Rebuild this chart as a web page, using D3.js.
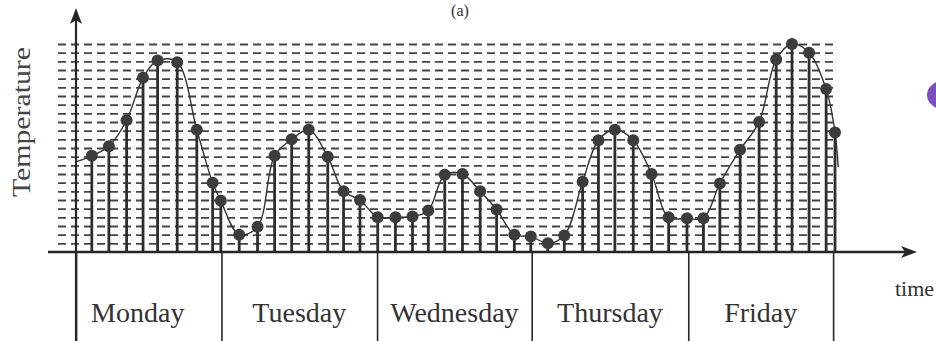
<!DOCTYPE html>
<html>
<head>
<meta charset="utf-8">
<script src="https://cdn.jsdelivr.net/npm/d3@7"></script>
<style>
  html, body { margin: 0; padding: 0; background: #fff; }
  svg { display: block; }
</style>
</head>
<body>
<svg id="chart" width="936" height="341"></svg>
<script>
// ---------------- data ----------------
const days = ["Monday", "Tuesday", "Wednesday", "Thursday", "Friday"];
// day boundaries along the time axis (hours)
const dayBounds = [0, 23.0, 47.6, 72.05, 96.8, 119.7];
// sample times (hours) and sampled temperatures (grid units)
const sampleTimes = [2.5, 5.2, 8.0, 10.6, 12.9, 16.0, 19.1, 21.6, 22.9, 25.8,
  28.7, 31.4, 34.1, 36.8, 39.8, 42.3, 44.9, 47.7, 50.5, 53.2,
  55.7, 58.3, 61.1, 63.9, 66.5, 69.3, 71.9, 74.6, 77.2, 80.1,
  82.6, 85.2, 88.1, 91.0, 93.7, 96.6, 99.2, 101.8, 105.0, 108.0,
  110.7, 113.2, 115.9, 118.6, 120.0];
const sampleTemps = [11.1, 12.2, 15.2, 20.1, 22.1, 21.9, 14.1, 8.0, 5.9, 2.0,
  2.9, 11.1, 13.0, 14.1, 11.0, 7.0, 6.0, 4.0, 4.0, 4.1,
  4.8, 8.9, 9.0, 7.0, 4.9, 2.0, 1.8, 1.0, 1.9, 8.1,
  12.9, 14.1, 12.9, 9.0, 4.0, 3.9, 3.9, 7.9, 11.8, 15.0,
  22.2, 24.0, 23.0, 18.8, 13.8];
// continuous signal ends (time, temperature)
const curveStart = [0, 10.4];
const curveEnd = [120.5, 9.8];
// dashed quantisation levels
const levels = d3.range(1, 25);
const yLabel = "Temperature";
const xLabel = "time";
const title = "(a)";

// ---------------- layout ----------------
const svg = d3.select("#chart");
const x = d3.scaleLinear().domain([0, 120]).range([76, 835]);
const y = d3.scaleLinear().domain([0, 24]).range([252, 44]);
const base = y(0);
const ink = "#262626";
const serif = "'Liberation Serif', 'DejaVu Serif', serif";

// decorative purple blob at right edge
svg.append("ellipse").attr("cx", 946).attr("cy", 95).attr("rx", 19).attr("ry", 15)
  .attr("fill", "#7b4cc2");

// dashed level lines via axis generator
const gridLeft = x(0) - 18, gridRight = x(120) + 2;
const grid = svg.append("g").attr("transform", `translate(${gridLeft},0)`)
  .call(d3.axisLeft(y).tickValues(levels).tickSize(-(gridRight - gridLeft)).tickFormat(""));
grid.select(".domain").remove();
grid.selectAll(".tick line")
  .attr("stroke", "#444").attr("stroke-width", 1.9)
  .attr("stroke-dasharray", "8,5");

// day dividers via axis generator
const divs = svg.append("g").attr("transform", `translate(0,${base})`)
  .call(d3.axisBottom(x).tickValues(dayBounds).tickSize(341 - base).tickFormat(""));
divs.select(".domain").remove();
divs.selectAll(".tick line").attr("stroke", ink).attr("stroke-width", 1.6);

// day labels
const centers = days.map((d, i) => (dayBounds[i] + dayBounds[i + 1]) / 2);
svg.append("g").selectAll("text").data(days).join("text")
  .attr("x", (d, i) => x(centers[i]) - (i === 0 ? 11 : 0))
  .attr("y", 321.5)
  .attr("text-anchor", "middle")
  .attr("font-family", serif).attr("font-size", 28).attr("fill", "#333")
  .text(d => d);

// stems
const samples = sampleTimes.map((t, i) => ({ t, v: sampleTemps[i] }));
svg.append("g").selectAll("line").data(samples).join("line")
  .attr("x1", d => x(d.t)).attr("x2", d => x(d.t))
  .attr("y1", base).attr("y2", d => y(d.v))
  .attr("stroke", "#2e2e2e").attr("stroke-width", 2.8);

// continuous curve
const curvePts = [curveStart, ...samples.map(d => [d.t, d.v]), curveEnd];
svg.append("path")
  .attr("d", d3.line().x(d => x(d[0])).y(d => y(d[1])).curve(d3.curveCatmullRom.alpha(0.5))(curvePts))
  .attr("fill", "none").attr("stroke", "#333").attr("stroke-width", 1.4);

// dots
svg.append("g").selectAll("circle").data(samples).join("circle")
  .attr("cx", d => x(d.t)).attr("cy", d => y(d.v)).attr("r", 6)
  .attr("fill", "#3c3c3c");

// axes lines with arrows
svg.append("line").attr("x1", x(0)).attr("x2", x(0)).attr("y1", 20).attr("y2", 341)
  .attr("stroke", ink).attr("stroke-width", 2.2);
svg.append("path")
  .attr("d", `M${x(0)},8 L${x(0) + 6},24 L${x(0)},20 L${x(0) - 6},24 Z`)
  .attr("fill", ink);
svg.append("line").attr("x1", 48).attr("x2", 906).attr("y1", base).attr("y2", base)
  .attr("stroke", ink).attr("stroke-width", 2.4);
svg.append("path")
  .attr("d", `M917,${base} L901,${base - 6} L905,${base} L901,${base + 6} Z`)
  .attr("fill", ink);

// labels
svg.append("text")
  .attr("transform", "translate(30,122) rotate(-90)")
  .attr("text-anchor", "middle")
  .attr("font-family", serif).attr("font-size", 25).attr("fill", "#444")
  .attr("textLength", 150).attr("lengthAdjust", "spacingAndGlyphs")
  .text(yLabel);
svg.append("text").attr("x", 895).attr("y", 296)
  .attr("font-family", serif).attr("font-size", 22).attr("fill", "#333")
  .text(xLabel);
svg.append("text").attr("x", 460).attr("y", 16).attr("text-anchor", "middle")
  .attr("font-family", serif).attr("font-size", 16).attr("fill", "#333")
  .text(title);
</script>
</body>
</html>
